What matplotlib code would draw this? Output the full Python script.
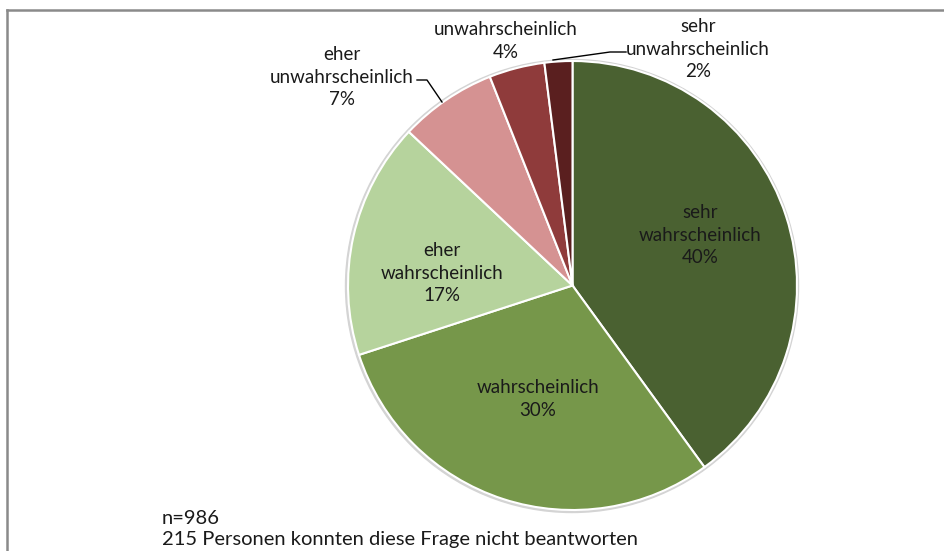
import matplotlib
matplotlib.use("Agg")
import matplotlib.pyplot as plt
from matplotlib.lines import Line2D
from matplotlib.patches import Circle

plt.rcParams['font.family'] = ['Lato', 'DejaVu Sans']

categories = ["sehr\nwahrscheinlich", "wahrscheinlich", "eher\nwahrscheinlich",
              "eher\nunwahrscheinlich", "unwahrscheinlich", "sehr\nunwahrscheinlich"]
values = [40, 30, 17, 7, 4, 2]
colors = ["#4a6131", "#76974a", "#b6d39d", "#d59292", "#8f3b3b", "#5a1f1f"]
note_lines = ["n=986", "215 Personen konnten diese Frage nicht beantworten"]

W, H = 945, 551
fig = plt.figure(figsize=(W / 100, H / 100), dpi=100)
ax = fig.add_axes([0, 0, 1, 1])
ax.set_xlim(0, W)
ax.set_ylim(0, H)
ax.set_aspect('equal')
ax.axis('off')

cx, cy, r = 572.5, H - 285.5, 224.5

# subtle shadow rim
ax.add_patch(Circle((cx - 0.5, cy - 0.5), r + 2, color="#d4d4d4", zorder=0))

ax.pie(values, colors=colors, startangle=90, counterclock=False,
       center=(cx, cy), radius=r, frame=True,
       wedgeprops=dict(edgecolor="white", linewidth=1.5))
ax.set_xlim(0, W)
ax.set_ylim(0, H)
ax.axis('off')

fs = 13.5
# label positions (pixel coords, y from top)
label_pos = [(700, 235), (538, 399), (442, 273), (342, 77), (506, 41), (698, 49)]
for cat, v, (px, py) in zip(categories, values, label_pos):
    ax.text(px, H - py, f"{cat}\n{v}%", ha='center', va='center',
            fontsize=fs, color="#1a1a1a", linespacing=1.42)

# leader lines
ax.add_line(Line2D([417, 427, 442], [H - 80, H - 80, H - 102], color="black", lw=1.0))
ax.add_line(Line2D([626, 610, 553], [H - 52, H - 52, H - 60], color="black", lw=1.0))

# footnote
ax.text(162, H - 518, note_lines[0], ha='left', va='center', fontsize=14.5, color="#1a1a1a")
ax.text(162, H - 539, note_lines[1], ha='left', va='center', fontsize=14.5, color="#1a1a1a")

# frame
fig.add_artist(Line2D([7 / W, 7 / W], [0, 1 - 10 / H], transform=fig.transFigure,
                      color="#8a8a8a", lw=1.8))
fig.add_artist(Line2D([7 / W, 1], [1 - 10 / H, 1 - 10 / H], transform=fig.transFigure,
                      color="#8a8a8a", lw=1.8))

fig.savefig("out.png", dpi=100, facecolor="white")
